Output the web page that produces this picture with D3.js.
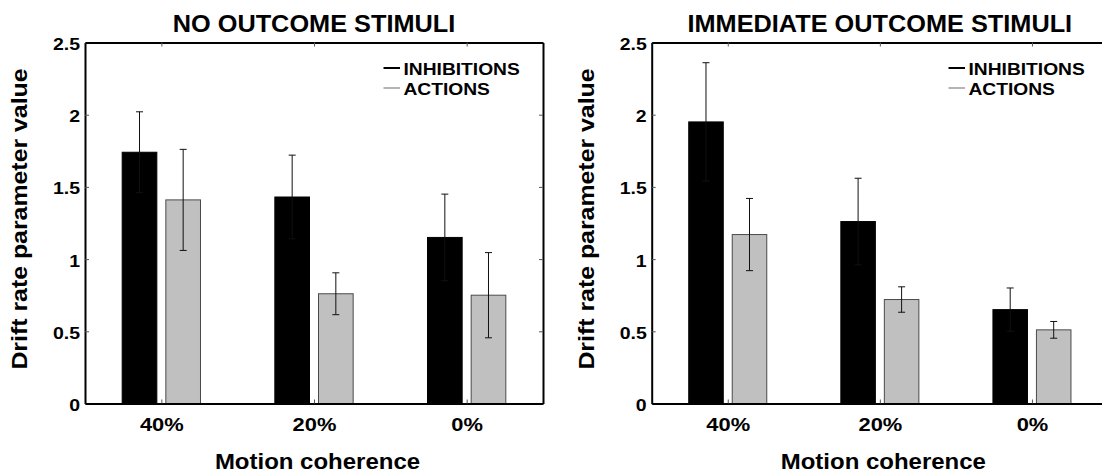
<!DOCTYPE html>
<html>
<head>
<meta charset="utf-8">
<script src="https://cdn.jsdelivr.net/npm/d3@7/dist/d3.min.js"></script>
<style>
  html, body { margin: 0; padding: 0; background: #fff; }
  svg { display: block; font-family: "Liberation Sans", Arial, sans-serif; font-weight: bold; }
</style>
</head>
<body>
<svg id="chart" width="1102" height="473"></svg>
<script>
// chart values
var categories = ["40%", "20%", "0%"];
var seriesNames = ["INHIBITIONS", "ACTIONS"];
var panelTitles = ["NO OUTCOME STIMULI", "IMMEDIATE OUTCOME STIMULI"];
var yTicks = [0, 0.5, 1, 1.5, 2, 2.5];

var noOutcomeInhibitions = [1.74, 1.43, 1.15];
var noOutcomeInhibitionsErr = [0.28, 0.29, 0.30];
var noOutcomeActions = [1.41, 0.76, 0.75];
var noOutcomeActionsErr = [0.35, 0.145, 0.295];

var immediateInhibitions = [1.95, 1.26, 0.65];
var immediateInhibitionsErr = [0.41, 0.30, 0.15];
var immediateActions = [1.17, 0.72, 0.51];
var immediateActionsErr = [0.25, 0.088, 0.058];

var svg = d3.select("#chart");
var plotTop = 42.5, plotBottom = 403.5;

var panels = [
    {title: panelTitles[0], left: 85, right: 543,
     series: [{vals: noOutcomeInhibitions, err: noOutcomeInhibitionsErr},
              {vals: noOutcomeActions, err: noOutcomeActionsErr}]},
    {title: panelTitles[1], left: 651.7, right: 1108,
     series: [{vals: immediateInhibitions, err: immediateInhibitionsErr},
              {vals: immediateActions, err: immediateActionsErr}]}
];

var fills = ["#000000", "#c0c0c0"];
var strokes = ["#000000", "#4a4a4a"];
var legendColors = ["#000000", "#b4b4b4"];
var offsets = [-0.143, 0.143];
var barWidth = 0.227;

// widen text horizontally, the original glyphs are a bit stretched
function stretch(sel, k) {
    sel.each(function () {
        var len = this.getComputedTextLength();
        d3.select(this).attr("textLength", len * k).attr("lengthAdjust", "spacingAndGlyphs");
    });
}

panels.forEach(function (p) {
    var x = d3.scaleLinear().domain([0.5, 3.5]).range([p.left, p.right]);
    var y = d3.scaleLinear().domain([0, 2.5]).range([plotBottom, plotTop]);
    var g = svg.append("g");
    var mid = (p.left + p.right) / 2;

    // bars
    p.series.forEach(function (s, si) {
        g.selectAll(null)
            .data(s.vals)
            .enter().append("rect")
            .attr("x", function (d, i) { return x(i + 1 + offsets[si] - barWidth / 2); })
            .attr("width", x(barWidth) - x(0))
            .attr("y", function (d) { return y(d); })
            .attr("height", function (d) { return y(0) - y(d); })
            .attr("fill", fills[si])
            .attr("stroke", strokes[si])
            .attr("stroke-width", 1);
    });

    // error bars
    p.series.forEach(function (s, si) {
        s.vals.forEach(function (v, i) {
            var cx = x(i + 1 + offsets[si]);
            var lo = y(v - s.err[i]), hi = y(v + s.err[i]);
            var eg = g.append("g").attr("stroke", "#111").attr("stroke-width", 1);
            eg.append("line").attr("x1", cx).attr("x2", cx).attr("y1", lo).attr("y2", hi);
            eg.append("line").attr("x1", cx - 3.5).attr("x2", cx + 3.5).attr("y1", lo).attr("y2", lo);
            eg.append("line").attr("x1", cx - 3.5).attr("x2", cx + 3.5).attr("y1", hi).attr("y2", hi);
        });
    });

    // axes with inward ticks on all four sides
    var yl = g.append("g").attr("transform", "translate(" + p.left + ",0)")
        .call(d3.axisLeft(y).tickValues(yTicks).tickFormat(d3.format("")).tickSizeInner(-4).tickSizeOuter(0).tickPadding(5));
    var yr = g.append("g").attr("transform", "translate(" + p.right + ",0)")
        .call(d3.axisRight(y).tickValues(yTicks).tickFormat("").tickSizeInner(-4).tickSizeOuter(0));
    var xb = g.append("g").attr("transform", "translate(0," + plotBottom + ")")
        .call(d3.axisBottom(x).tickValues([1, 2, 3]).tickFormat(function (d) { return categories[d - 1]; })
            .tickSizeInner(-4).tickSizeOuter(0).tickPadding(15.5));
    var xt = g.append("g").attr("transform", "translate(0," + plotTop + ")")
        .call(d3.axisTop(x).tickValues([1, 2, 3]).tickFormat("").tickSizeInner(-4).tickSizeOuter(0));

    [yl, yr, xb, xt].forEach(function (a) {
        a.select(".domain").attr("stroke", "#000").attr("stroke-width", 2);
        a.selectAll(".tick line").attr("stroke", "#555").attr("stroke-width", 1);
        a.selectAll("text").attr("fill", "#000").attr("font-family", null);
    });
    yl.selectAll("text").attr("font-size", 16.5).attr("dy", "0.42em").call(stretch, 1.18);
    xb.selectAll("text").attr("font-size", 17.5).call(stretch, 1.25);

    // title
    g.append("text")
        .attr("x", mid).attr("y", 31.5)
        .attr("text-anchor", "middle").attr("font-size", 23)
        .text(p.title)
        .call(stretch, 1.1);

    // axis labels
    g.append("text")
        .attr("x", mid + 3.5).attr("y", 469)
        .attr("text-anchor", "middle").attr("font-size", 22)
        .text("Motion coherence")
        .call(stretch, 1.09);

    g.append("text")
        .attr("transform", "translate(" + (p.left - 58) + ",219) rotate(-90)")
        .attr("text-anchor", "middle").attr("font-size", 22)
        .text("Drift rate parameter value")
        .call(stretch, 1.13);

    // legend
    var lg = g.append("g").attr("transform", "translate(" + (p.right - 159.5) + ",0)");
    seriesNames.forEach(function (name, i) {
        var ly = 68 + i * 20;
        lg.append("line").attr("x1", 0).attr("x2", 16.5).attr("y1", ly).attr("y2", ly)
            .attr("stroke", legendColors[i]).attr("stroke-width", 2);
        lg.append("text").attr("x", 20).attr("y", ly + 6.5).attr("font-size", 16)
            .text(name).call(stretch, 1.2);
    });
});
</script>
</body>
</html>
